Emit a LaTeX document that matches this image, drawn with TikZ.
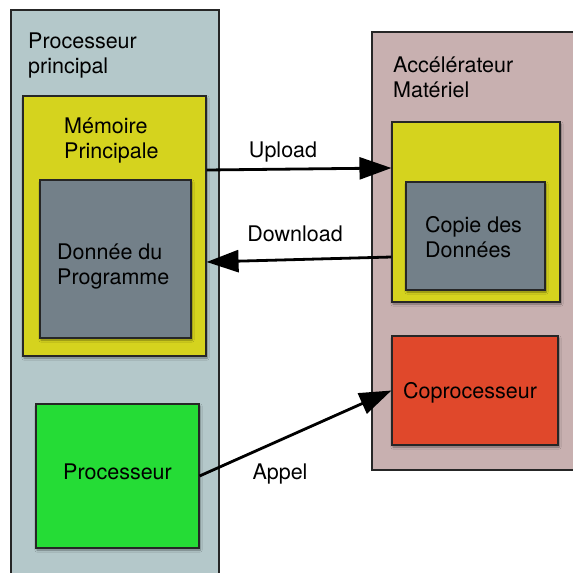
\documentclass[tikz,border=0pt]{standalone}
\usepackage{fontspec}
\setmainfont{TeX Gyre Heros}
\usetikzlibrary{arrows.meta,shadows.blur}
\definecolor{hostbg}{HTML}{B4C8CA}
\definecolor{accbg}{HTML}{C8B0B0}
\definecolor{memyel}{HTML}{D5D31E}
\definecolor{datgray}{HTML}{738089}
\definecolor{cpugreen}{HTML}{25DC36}
\definecolor{copred}{HTML}{E0482B}
\begin{document}
\begin{tikzpicture}[x=1pt,y=-1pt,
  every node/.style={font=\fontsize{21.5}{25}\selectfont, text=black},
  panel/.style={draw=black!85, line width=1.1pt, inner sep=0pt},
  unit/.style={panel, blur shadow={shadow blur steps=6, shadow xshift=1pt, shadow yshift=-2pt, shadow opacity=40}},
  caption/.style={anchor=base west, align=left, inner sep=0pt},
  flow/.style={line width=2.8pt, -{Triangle[length=32pt,width=22pt]}},
  flowlabel/.style={inner sep=0pt}]
\useasboundingbox (0,0) rectangle (573,573);
\fill[white] (0,0) rectangle (573,573);

% host side
\node[panel, fill=hostbg, minimum width=208pt, minimum height=580pt] (host) at (115,300) {};
\node[caption] (hosttitle) at (28,73) {Processeur\\principal};
\node[unit, fill=memyel, minimum width=183pt, minimum height=260pt] (memL) at (114.5,226) {};
\node[caption] (memLtitle) at (64,158) {Mémoire\\Principale};
\node[unit, fill=datgray, minimum width=151pt, minimum height=158pt] (datL) at (115.5,259) {};
\node[caption] (datLtext) at (57,284) {Donnée du\\Programme};
\node[unit, fill=cpugreen, minimum width=163pt, minimum height=144pt] (proc) at (117.5,476) {};
\node[caption] (proctext) at (63,479) {Processeur};

% accelerator side
\node[panel, fill=accbg, minimum width=213pt, minimum height=438pt] (acc) at (478.5,251) {};
\node[caption] (acctitle) at (393,97) {Accélérateur\\Matériel};
\node[unit, fill=memyel, minimum width=168pt, minimum height=180pt] (memR) at (476,212) {};
\node[unit, fill=datgray, minimum width=139pt, minimum height=108pt] (datR) at (475.5,236) {};
\node[caption] (datRtext) at (425,257) {Copie des\\Données};
\node[unit, fill=copred, minimum width=166pt, minimum height=109pt] (copro) at (475,390.5) {};
\node[caption] (coprotext) at (403,398) {Coprocesseur};

% transfers
\draw[flow] ([yshift=56pt]memL.east) -- ([yshift=44pt]memR.west);
\draw[flow] ([yshift=-45pt]memR.west) -- ([yshift=-36pt]memL.east);
\draw[flow] (proc.east) -- (copro.west);
\node[flowlabel] (uplbl) at (283,152) {Upload};
\node[flowlabel] (downlbl) at (295,234) {Download};
\node[flowlabel] (calllbl) at (280,474) {Appel};
\end{tikzpicture}
\end{document}
